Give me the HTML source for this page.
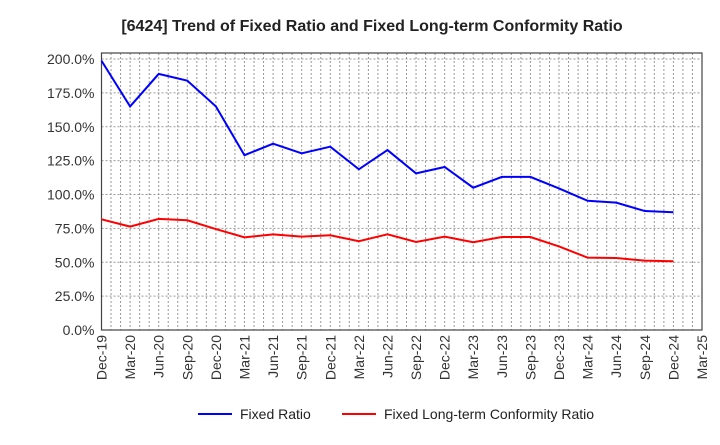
<!DOCTYPE html>
<html><head><meta charset="utf-8"><style>
body{margin:0;background:#fff;font-family:"Liberation Sans",Arial,sans-serif}
svg text{font-family:"Liberation Sans",Arial,sans-serif}
</style></head><body>
<svg id="c" width="720" height="440" xmlns="http://www.w3.org/2000/svg">
<text x="372" y="31" text-anchor="middle" font-size="16" font-weight="bold" fill="#222">[6424]  Trend of Fixed Ratio and Fixed Long-term Conformity Ratio</text>
<g id="grid"></g><g id="axes"></g><g id="series"></g>
<g>
<line x1="198" y1="414" x2="232" y2="414" stroke="#0000ff" stroke-width="2"/>
<text x="240" y="419" font-size="14" fill="#222">Fixed Ratio</text>
<line x1="342" y1="414" x2="376" y2="414" stroke="#ff0000" stroke-width="2"/>
<text x="384" y="419" font-size="14" fill="#222">Fixed Long-term Conformity Ratio</text>
</g>
</svg>
<script>
const categories=["Dec-19","Mar-20","Jun-20","Sep-20","Dec-20","Mar-21","Jun-21","Sep-21","Dec-21","Mar-22","Jun-22","Sep-22","Dec-22","Mar-23","Jun-23","Sep-23","Dec-23","Mar-24","Jun-24","Sep-24","Dec-24","Mar-25"];
const fixedRatio=[198.7,165,189,184,165,129,137.5,130.4,135.3,118.6,132.8,115.6,120.3,105,113,113,104.5,95.4,94,87.8,86.9];
const conformityRatio=[81.7,76.3,82,81,74.5,68.4,70.6,68.9,69.9,65.5,70.6,65,68.9,64.8,68.6,68.6,61.7,53.4,53.1,51.2,50.7];
const yTicks=[0,25,50,75,100,125,150,175,200];
const yTickLabels=["0.0%","25.0%","50.0%","75.0%","100.0%","125.0%","150.0%","175.0%","200.0%"];
const L=101.5,R=702,T=53,B=330,YMAX=200,Y200=59;
const xs=i=>L+(R-L)*i/(categories.length-1);
const ys=v=>B-(B-Y200)*v/YMAX;
const NS="http://www.w3.org/2000/svg";
function mk(p,t,a){const e=document.createElementNS(NS,t);for(const k in a)e.setAttribute(k,a[k]);p.appendChild(e);return e;}
const grid=document.getElementById('grid'),axes=document.getElementById('axes'),series=document.getElementById('series');
for(let m=1;m<(categories.length-1)*3;m++){const x=L+(R-L)*m/((categories.length-1)*3);
const g=mk(grid,'line',{x1:x,x2:x,y1:T,y2:B,stroke:'#999','stroke-dasharray':'2,2','stroke-width':1});

}
yTicks.forEach((v,i)=>{const y=ys(v);
if(v>0){const g=mk(grid,'line',{x1:L,x2:R,y1:y,y2:y,stroke:'#999','stroke-dasharray':'2,2','stroke-width':1});

}
const t=mk(axes,'text',{x:L-7,y:y+5,'text-anchor':'end','font-size':14,fill:'#333'});t.textContent=yTickLabels[i];

});
const fr=mk(axes,'rect',{x:L,y:T,width:R-L,height:B-T,fill:'none',stroke:'#444','stroke-width':1.2});


categories.forEach((c,i)=>{const x=xs(i);
const t=mk(axes,'text',{x:0,y:0,'text-anchor':'end','font-size':14,fill:'#333',transform:`translate(${x+5},${B+5}) rotate(-90)`});t.textContent=c;

});
function line(data,color,name){const pts=data.map((v,i)=>xs(i)+','+ys(v)).join(' ');
const p=mk(series,'polyline',{points:pts,fill:'none',stroke:color,'stroke-width':2});

}
line(fixedRatio,'#0000ff','fixed-ratio-line');
line(conformityRatio,'#ff0000','conformity-ratio-line');
</script>
</body></html>
